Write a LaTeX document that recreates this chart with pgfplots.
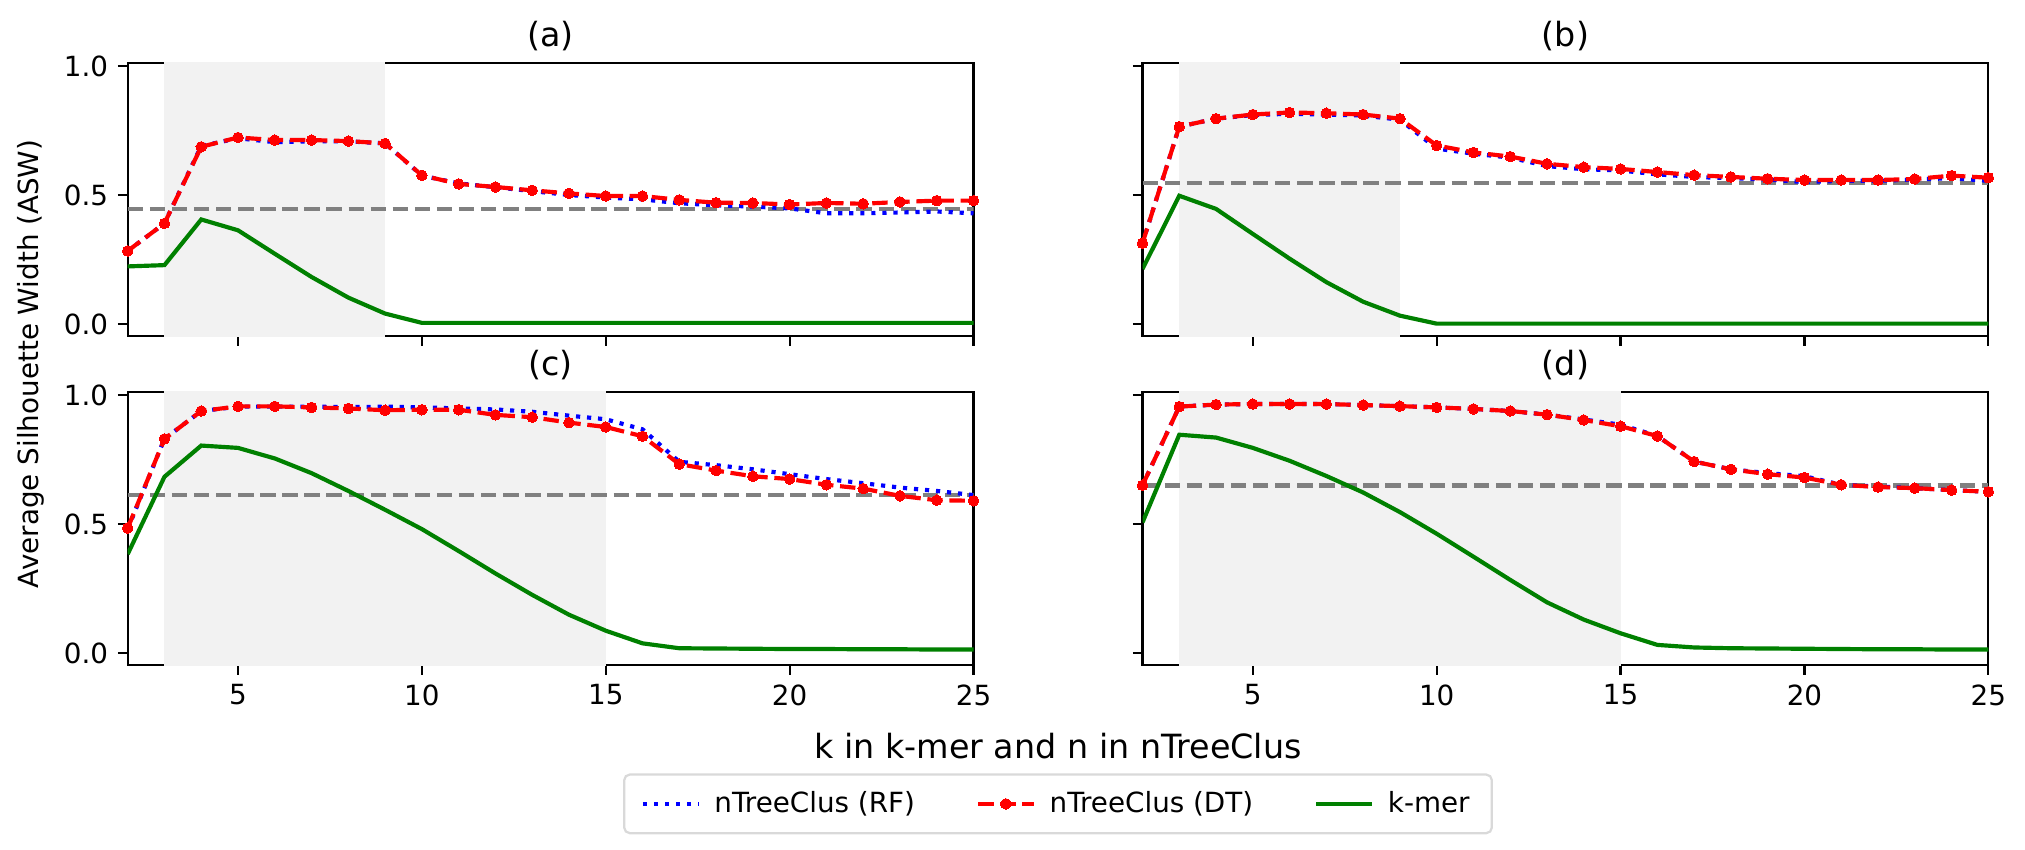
\documentclass[border=0pt]{standalone}
\usepackage{pgfplots}
\pgfplotsset{compat=1.18}
\usepackage{fontspec}
\setmainfont{DejaVu Sans}
\definecolor{mgreen}{HTML}{008000}
\definecolor{mgray}{HTML}{808080}
\definecolor{shade}{HTML}{F2F2F2}

\pgfplotsset{
  panel/.style={
    scale only axis, width=304.5pt, height=98.4pt,
    anchor=north west,
    xmin=2, xmax=25, ymin=-0.047, ymax=1.013,
    xtick={5,10,15,20,25}, ytick={0,0.5,1},
    tick align=outside, major tick length=3.5pt,
    xtick pos=bottom, ytick pos=left,
    axis line style={line width=0.8pt},
    every tick/.style={black, line width=0.8pt},
    tick label style={font=\fontsize{10}{12}\selectfont},
    /pgf/number format/assume math mode=true,
    yticklabel style={/pgf/number format/.cd, fixed, fixed zerofill, precision=1},
    title style={at={(0.5,1)}, anchor=base, font=\fontsize{12}{14}\selectfont},
    legend image code/.code={\draw[mark repeat=2,mark phase=2,#1] plot coordinates {(0pt,0pt) (10pt,0pt) (20pt,0pt)};},
  },
  rf/.style={blue, line width=1.5pt, dash pattern=on 1.5pt off 2.475pt, no marks},
  dt/.style={red, line width=1.5pt, dash pattern=on 5.55pt off 2.4pt, mark=*, mark size=1.9pt, mark options={solid, fill=red, draw=red, line width=0pt}},
  km/.style={mgreen, line width=1.5pt, solid, no marks},
  hl/.style={mgray, line width=1.5pt, dash pattern=on 5.55pt off 2.4pt, forget plot},
  sh/.style={fill=shade, draw=none, forget plot},
}

\begin{document}
\begin{tikzpicture}
\path[use as bounding box] (0,0) rectangle (729pt,-305.64pt);

% (a)
\begin{axis}[panel, at={(45.97pt,-22.57pt)}, title={(a)}, xticklabels={}]
\addplot[sh] coordinates {(3,-1) (9,-1) (9,2) (3,2)};
\addplot[hl] coordinates {(2,0.447) (25,0.447)};
\addplot[rf] coordinates {(2,0.283) (3,0.390) (4,0.690) (5,0.720) (6,0.705) (7,0.708) (8,0.708) (9,0.700) (10,0.575) (11,0.545) (12,0.530) (13,0.515) (14,0.500) (15,0.490) (16,0.483) (17,0.468) (18,0.460) (19,0.455) (20,0.448) (21,0.429) (22,0.429) (23,0.432) (24,0.436) (25,0.429)};
\addplot[dt] coordinates {(2,0.283) (3,0.390) (4,0.687) (5,0.723) (6,0.713) (7,0.713) (8,0.709) (9,0.700) (10,0.576) (11,0.543) (12,0.531) (13,0.518) (14,0.506) (15,0.496) (16,0.496) (17,0.481) (18,0.470) (19,0.469) (20,0.463) (21,0.469) (22,0.466) (23,0.473) (24,0.478) (25,0.478)};
\addplot[km] coordinates {(2,0.223) (3,0.228) (4,0.405) (5,0.363) (6,0.272) (7,0.182) (8,0.102) (9,0.040) (10,0.004) (11,0.004) (12,0.004) (13,0.004) (14,0.004) (15,0.004) (16,0.004) (17,0.004) (18,0.004) (19,0.004) (20,0.004) (21,0.004) (22,0.004) (23,0.004) (24,0.004) (25,0.004)};
\end{axis}

% (b)
\begin{axis}[panel, at={(411.3pt,-22.57pt)}, title={(b)}, xticklabels={}, yticklabels={}]
\addplot[sh] coordinates {(3,-1) (9,-1) (9,2) (3,2)};
\addplot[hl] coordinates {(2,0.548) (25,0.548)};
\addplot[rf] coordinates {(2,0.313) (3,0.765) (4,0.796) (5,0.810) (6,0.815) (7,0.812) (8,0.808) (9,0.792) (10,0.680) (11,0.660) (12,0.645) (13,0.612) (14,0.600) (15,0.595) (16,0.580) (17,0.570) (18,0.565) (19,0.560) (20,0.550) (21,0.555) (22,0.555) (23,0.560) (24,0.565) (25,0.555)};
\addplot[dt] coordinates {(2,0.313) (3,0.765) (4,0.796) (5,0.812) (6,0.820) (7,0.817) (8,0.812) (9,0.796) (10,0.692) (11,0.665) (12,0.649) (13,0.621) (14,0.608) (15,0.601) (16,0.589) (17,0.577) (18,0.570) (19,0.563) (20,0.558) (21,0.558) (22,0.558) (23,0.562) (24,0.575) (25,0.567)};
\addplot[km] coordinates {(2,0.213) (3,0.497) (4,0.446) (5,0.349) (6,0.253) (7,0.162) (8,0.086) (9,0.032) (10,0.001) (11,0.001) (12,0.001) (13,0.001) (14,0.001) (15,0.001) (16,0.001) (17,0.001) (18,0.001) (19,0.001) (20,0.001) (21,0.001) (22,0.001) (23,0.001) (24,0.001) (25,0.001)};
\end{axis}

% (c)
\begin{axis}[panel, at={(45.97pt,-141.0pt)}, title={(c)},
  legend columns=3,
  legend style={at={(1.0999,-0.508)}, anchor=center, draw=black!15, line width=0.8pt, rounded corners=2pt,
    font=\fontsize{10}{12}\selectfont, inner xsep=6pt, inner ysep=4pt,
    /tikz/every odd column/.append style={column sep=3pt},
    /tikz/every even column/.append style={column sep=20pt}},
  legend cell align=left]
\addplot[sh] coordinates {(3,-1) (15,-1) (15,2) (3,2)};
\addplot[hl] coordinates {(2,0.612) (25,0.612)};
\addplot[rf] coordinates {(2,0.480) (3,0.830) (4,0.938) (5,0.955) (6,0.955) (7,0.955) (8,0.953) (9,0.955) (10,0.952) (11,0.948) (12,0.944) (13,0.935) (14,0.920) (15,0.906) (16,0.867) (17,0.741) (18,0.728) (19,0.712) (20,0.693) (21,0.674) (22,0.658) (23,0.641) (24,0.628) (25,0.612)};
\addlegendentry{nTreeClus (RF)}
\addplot[dt] coordinates {(2,0.484) (3,0.830) (4,0.938) (5,0.956) (6,0.956) (7,0.952) (8,0.948) (9,0.941) (10,0.943) (11,0.943) (12,0.923) (13,0.914) (14,0.893) (15,0.876) (16,0.840) (17,0.732) (18,0.707) (19,0.685) (20,0.674) (21,0.652) (22,0.637) (23,0.609) (24,0.592) (25,0.590)};
\addlegendentry{nTreeClus (DT)}
\addplot[km] coordinates {(2,0.383) (3,0.683) (4,0.804) (5,0.795) (6,0.754) (7,0.697) (8,0.628) (9,0.555) (10,0.480) (11,0.395) (12,0.308) (13,0.225) (14,0.148) (15,0.086) (16,0.037) (17,0.018) (18,0.017) (19,0.016) (20,0.015) (21,0.015) (22,0.014) (23,0.014) (24,0.013) (25,0.013)};
\addlegendentry{k-mer}
\end{axis}

% (d)
\begin{axis}[panel, at={(411.3pt,-141.0pt)}, title={(d)}, yticklabels={}]
\addplot[sh] coordinates {(3,-1) (15,-1) (15,2) (3,2)};
\addplot[hl] coordinates {(2,0.649) (25,0.649)};
\addplot[rf] coordinates {(2,0.650) (3,0.955) (4,0.963) (5,0.965) (6,0.965) (7,0.965) (8,0.961) (9,0.957) (10,0.952) (11,0.946) (12,0.938) (13,0.924) (14,0.905) (15,0.885) (16,0.841) (17,0.742) (18,0.712) (19,0.697) (20,0.685) (21,0.652) (22,0.645) (23,0.639) (24,0.631) (25,0.625)};
\addplot[dt] coordinates {(2,0.650) (3,0.955) (4,0.963) (5,0.965) (6,0.965) (7,0.965) (8,0.961) (9,0.957) (10,0.952) (11,0.946) (12,0.938) (13,0.924) (14,0.903) (15,0.879) (16,0.841) (17,0.742) (18,0.712) (19,0.693) (20,0.680) (21,0.652) (22,0.643) (23,0.639) (24,0.631) (25,0.625)};
\addplot[km] coordinates {(2,0.506) (3,0.846) (4,0.835) (5,0.795) (6,0.745) (7,0.686) (8,0.622) (9,0.546) (10,0.462) (11,0.373) (12,0.283) (13,0.196) (14,0.129) (15,0.076) (16,0.031) (17,0.021) (18,0.018) (19,0.017) (20,0.016) (21,0.015) (22,0.014) (23,0.014) (24,0.013) (25,0.013)};
\end{axis}

\node[rotate=90, font=\fontsize{10}{12}\selectfont] at (11.1pt,-131pt) {Average Silhouette Width (ASW)};
\node[anchor=base, font=\fontsize{12}{14}\selectfont] at (380.9pt,-273.2pt) {k in k-mer and n in nTreeClus};
\end{tikzpicture}
\end{document}
